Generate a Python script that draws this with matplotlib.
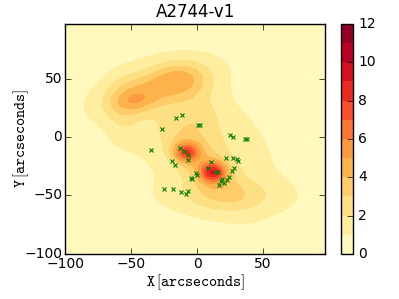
import numpy as np
import matplotlib
matplotlib.use("Agg")
import matplotlib.pyplot as plt

plt.style.use("classic")

# galaxy positions (arcsec)
gal_x = [-15.9, -11.1, -26.8, 0.8, 2.3, 25.0, 27.0, 36.4, 37.6, -34.6, -12.9, -9.6,
         -7.1, -6.6, -18.9, -16.7, 10.6, 8.6, 14.4, 15.7, 22.0, 27.0, 30.0, 30.8,
         27.8, 26.3, -1.0, -0.2, -4.5, -3.8, 24.0, 23.0, 19.2, 18.4, 20.7, 16.7,
         -25.2, -18.0, -12.3, -8.6, -6.8]
gal_y = [16.6, 19.2, 6.9, 10.3, 10.3, 1.7, 0.0, -1.7, -1.7, -10.6, -9.2, -11.8,
         -14.9, -19.8, -20.1, -24.1, -21.6, -26.1, -29.9, -29.9, -18.1, -17.5, -19.0, -20.4,
         -26.3, -29.2, -30.8, -32.8, -34.8, -35.6, -34.5, -37.0, -35.9, -37.6, -39.0, -40.8,
         -44.3, -44.3, -47.1, -48.6, -46.3]

# mass map components: centre, widths, rotation (deg), amplitude
comp_x = [5.0, -47.0, -32.0, -10.0, 3.0, -8.0, 12.0, 22.0, 0.0, -56.0]
comp_y = [-8.0, 31.0, 42.0, 50.0, -22.0, -13.0, -30.0, -50.0, 18.0, 22.0]
comp_sx = [44.0, 10.0, 28.0, 14.0, 26.0, 6.5, 7.0, 30.0, 12.0, 10.0]
comp_sy = [28.0, 6.0, 12.0, 10.0, 11.0, 5.5, 6.0, 10.0, 14.0, 20.0]
comp_ang = [-50.0, 10.0, 20.0, -10.0, -50.0, 0.0, 0.0, 0.0, 0.0, 0.0]
comp_amp = [1.5, 1.2, 3.2, 1.4, 1.8, 4.8, 5.6, 1.5, 1.0, 1.0]
background = 0.5

levels = np.arange(0, 13, 1)
cbar_ticks = [0, 2, 4, 6, 8, 10, 12]


def mass_map(xx, yy):
    z = np.full_like(xx, background)
    for x0, y0, sx, sy, ang, amp in zip(comp_x, comp_y, comp_sx, comp_sy, comp_ang, comp_amp):
        t = np.deg2rad(ang)
        dx, dy = xx - x0, yy - y0
        u = dx * np.cos(t) + dy * np.sin(t)
        v = -dx * np.sin(t) + dy * np.cos(t)
        z += amp * np.exp(-0.5 * ((u / sx) ** 2 + (v / sy) ** 2))
    return z


xs = np.linspace(-100, 97, 300)
ys = np.linspace(-100, 97, 300)
xx, yy = np.meshgrid(xs, ys)
zz = mass_map(xx, yy)

fig = plt.figure(figsize=(3.99, 2.99), dpi=100)
ax = fig.add_axes([0.163, 0.151, 0.652, 0.769])
cax = fig.add_axes([0.855, 0.151, 0.029, 0.769])

cf = ax.contourf(xx, yy, zz, levels=levels, cmap="YlOrRd")
ax.plot(gal_x, gal_y, "x", color="g", ms=3, mew=0.8)

ax.set_xlim(-100, 97)
ax.set_ylim(-100, 97)
ax.set_xticks([-100, -50, 0, 50])
ax.set_yticks([-100, -50, 0, 50])
ax.tick_params(labelsize=10)
ax.tick_params(axis="y", pad=2)
ax.tick_params(axis="x", pad=2)
ax.set_title("A2744-v1", fontsize=12)
ax.set_xlabel(r"$\mathtt{X}\,[\mathtt{arcseconds}]$", fontsize=11)
ax.set_ylabel(r"$\mathtt{Y}\,[\mathtt{arcseconds}]$", fontsize=11)
ax.xaxis.set_label_coords(0.5, -0.08)
ax.yaxis.set_label_coords(-0.13, 0.5)

cb = fig.colorbar(cf, cax=cax, ticks=cbar_ticks)
cb.ax.tick_params(labelsize=10)

fig.savefig("out.png", dpi=100)
